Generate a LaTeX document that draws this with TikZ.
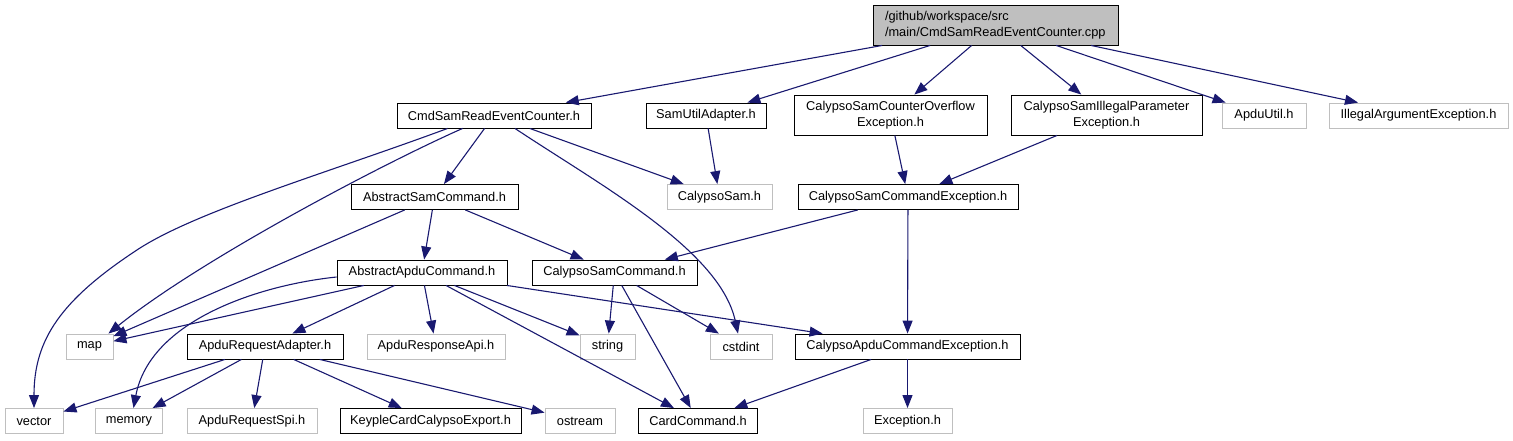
\documentclass[tikz,border=0pt]{standalone}
\usepackage{fontspec}
\newfontfamily\dfont{Liberation Sans}
\usetikzlibrary{arrows.meta,calc}
\definecolor{edgec}{RGB}{25,25,112}
\definecolor{grayb}{RGB}{191,191,191}
\definecolor{rootfill}{RGB}{191,191,191}
\tikzset{
  box/.style={draw=black, line width=0.9pt, minimum height=25pt, inner sep=0pt,
    font={\dfont\fontsize{12.8}{15.5}\selectfont}, text=black},
  gbox/.style={box, draw=grayb},
  tallbox/.style={box, minimum height=40pt, align=center},
  conn/.style={draw=edgec, line width=1.1pt, -{Triangle[length=13pt,width=10pt]}},
}
\begin{document}
\begin{tikzpicture}[x=1pt,y=-1pt]
\useasboundingbox (0,0) rectangle (1513,440);
% row 0
\node[box, fill=rootfill, minimum width=245pt, minimum height=40pt, align=left, text width=221pt] (root) at (995.5,25) {/github/workspace/src\\/main/CmdSamReadEventCounter.cpp};
% row 1
\node[box, minimum width=194pt] (cmd) at (494,115.5) {CmdSamReadEventCounter.h};
\node[box, minimum width=120pt] (sua) at (706,115.5) {SamUtilAdapter.h};
\node[tallbox, minimum width=193pt] (csco) at (890.5,115) {CalypsoSamCounterOverflow\\Exception.h};
\node[tallbox, minimum width=191pt] (csip) at (1106.5,115) {CalypsoSamIllegalParameter\\Exception.h};
\node[gbox, minimum width=84pt] (au) at (1264,115.5) {ApduUtil.h};
\node[gbox, minimum width=179pt] (iae) at (1418.5,115.5) {IllegalArgumentException.h};
% row 2
\node[box, minimum width=167pt] (asc) at (434.5,197) {AbstractSamCommand.h};
\node[gbox, minimum width=105pt] (cs) at (719.5,197) {CalypsoSam.h};
\node[box, minimum width=220pt] (csce) at (908,197) {CalypsoSamCommandException.h};
% row 3
\node[box, minimum width=170pt] (aac) at (422,272.5) {AbstractApduCommand.h};
\node[box, minimum width=165pt] (csc) at (614.5,272.5) {CalypsoSamCommand.h};
% row 4
\node[gbox, minimum width=47pt] (map) at (89.5,346.5) {map};
\node[box, minimum width=156pt] (ara) at (265,346.5) {ApduRequestAdapter.h};
\node[gbox, minimum width=138pt] (ars) at (436,346.5) {ApduResponseApi.h};
\node[gbox, minimum width=55pt] (str) at (607.5,346.5) {string};
\node[gbox, minimum width=62pt] (cst) at (741,346.5) {cstdint};
\node[box, minimum width=225pt] (cace) at (907.5,346.5) {CalypsoApduCommandException.h};
% row 5
\node[gbox, minimum width=58pt] (vec) at (34,421) {vector};
\node[gbox, minimum width=67pt] (mem) at (129,421) {memory};
\node[gbox, minimum width=130pt] (arsp) at (252,421) {ApduRequestSpi.h};
\node[box, minimum width=181pt] (kce) at (430.5,421) {KeypleCardCalypsoExport.h};
\node[gbox, minimum width=70pt] (ost) at (580,421) {ostream};
\node[box, minimum width=119pt] (cc) at (698,421) {CardCommand.h};
\node[gbox, minimum width=89pt] (exc) at (907.5,421) {Exception.h};
% edges from root
\draw[conn] (root) -- (cmd);
\draw[conn] (root) -- (sua);
\draw[conn] (root) -- (csco);
\draw[conn] (root) -- (csip);
\draw[conn] (root) -- (au);
\draw[conn] (root) -- (iae);
% from CmdSamReadEventCounter.h
\draw[conn] ([xshift=51pt]cmd.south west) .. controls (330,172) and (200,210) .. (140,248) .. controls (60,300) and (34,340) .. (vec.north);
\draw[conn] ([xshift=66pt]cmd.south west) .. controls (380,165) and (200,260) .. ([xshift=-5pt]map.north east);
\draw[conn] (cmd) -- (asc);
\draw[conn] ([xshift=21pt]cmd.south) .. controls (600,185) and (720,250) .. ([xshift=-3pt]cst.north);
\draw[conn] (cmd) -- (cs);
\draw[conn] (sua) -- (cs);
\draw[conn] (csco) -- (csce);
\draw[conn] (csip) -- (csce);
% from AbstractSamCommand.h
\draw[conn] (asc) -- (map);
\draw[conn] (asc) -- (aac);
\draw[conn] (asc) -- (csc);
% from CalypsoSamCommandException.h
\draw[conn] (csce) -- (csc);
\draw[conn] (csce) -- (cace);
% from AbstractApduCommand.h
\draw[conn] (aac) -- (map);
\draw[conn] ([yshift=-4.5pt]aac.west) .. controls (260,285) and (150,320) .. ([xshift=4.5pt]mem.north);
\draw[conn] (aac) -- (ara);
\draw[conn] (aac) -- (ars);
\draw[conn] (aac) -- (str);
\draw[conn] (aac) -- (cc);
\draw[conn] (aac) -- (cace);
% from CalypsoSamCommand.h
\draw[conn] (csc) -- (str);
\draw[conn] (csc) -- (cst);
\draw[conn] (csc) -- (cc);
% from ApduRequestAdapter.h
\draw[conn] (ara) -- (vec);
\draw[conn] (ara) -- (mem);
\draw[conn] (ara) -- (arsp);
\draw[conn] (ara) -- (kce);
\draw[conn] (ara) -- (ost);
% from CalypsoApduCommandException.h
\draw[conn] (cace) -- (cc);
\draw[conn] (cace) -- (exc);
\end{tikzpicture}
\end{document}
